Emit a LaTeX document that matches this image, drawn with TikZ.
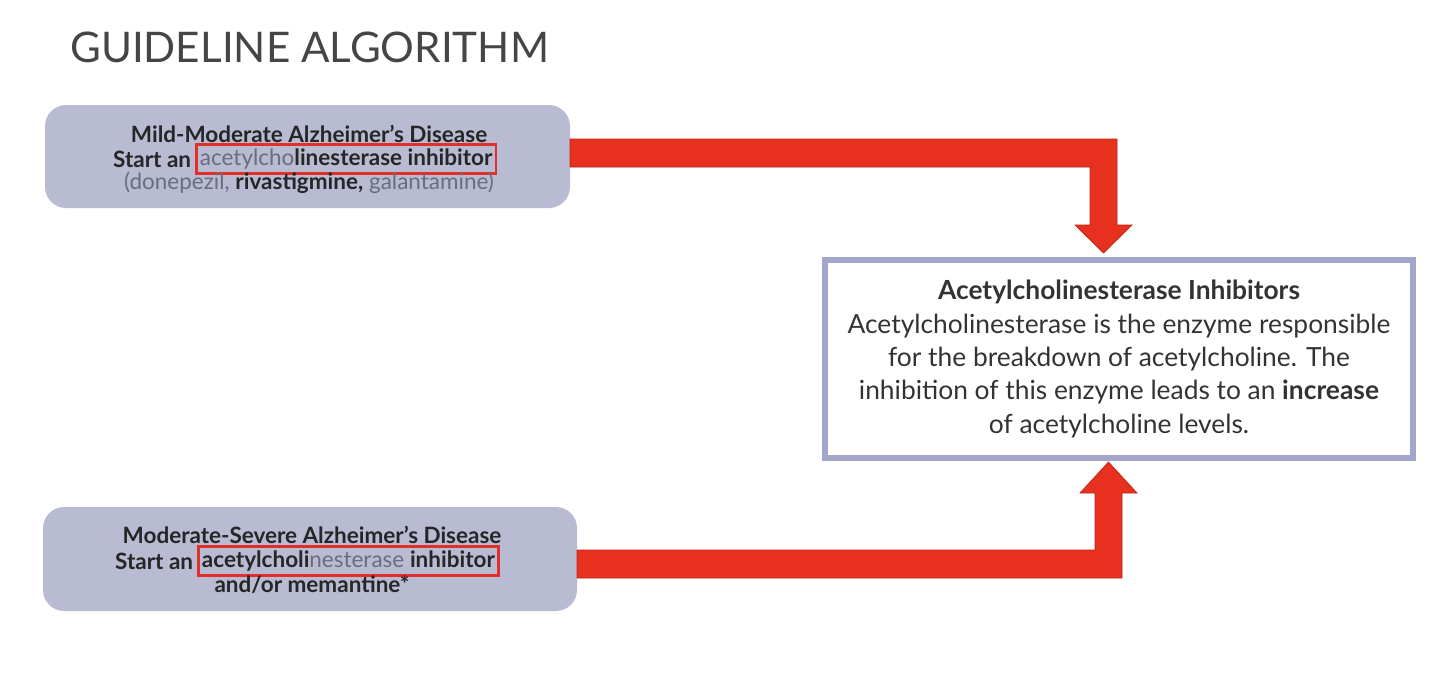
\documentclass[tikz,border=0pt]{standalone}
\usepackage{fontspec}
\setmainfont{Lato}
\begin{document}
\begin{tikzpicture}[x=0.02cm,y=-0.02cm,
  leftbox/.style={draw=none,fill=boxgray,rounded corners=12pt},
  hl/.style={draw=hlred,line width=1.6pt,inner xsep=2pt,inner ysep=2.5pt},
  fatarrow/.style={fill=arrred,draw=arrred!80!black,line width=0.4pt},
  lf/.style={font=\fontsize{12.8}{15}\selectfont,text=black!85,inner sep=0pt}]
\definecolor{boxgray}{HTML}{B9BBD3}
\definecolor{hlred}{HTML}{E0302A}
\definecolor{arrred}{HTML}{E8301E}
\definecolor{frame}{HTML}{A3A6CA}
\definecolor{titlec}{HTML}{454545}
\definecolor{lightt}{HTML}{6A6C80}
\useasboundingbox (0,0) rectangle (1440,676);
\node[anchor=west,text=titlec,font=\fontsize{24}{28}\selectfont] (title) at (64,47) {GUIDELINE ALGORITHM};
% top box
\path[leftbox] (45,105) rectangle (570,208);
\node[lf] (t1) at (309,134) {\textbf{Mild-Moderate Alzheimer's Disease}};
\node[lf,hl,anchor=west] (t2h) at (195,159) {{\color{lightt}acetylcho}\textbf{linesterase inhibitor}};
\node[lf,anchor=east] (t2a) at ([xshift=-2pt]t2h.west) {\textbf{Start an}};
\node[lf] (t3) at (309,183) {{\color{lightt}(donepezil,} \textbf{rivastigmine,} {\color{lightt}galantamine)}};
% bottom box
\path[leftbox] (43,507) rectangle (577,611);
\node[lf] (u1) at (312,535) {\textbf{Moderate-Severe Alzheimer's Disease}};
\node[lf,hl,anchor=west] (u2h) at (197,561) {\textbf{acetylcholi}{\color{lightt}nesterase} \textbf{inhibitor}};
\node[lf,anchor=east] (u2a) at ([xshift=-2pt]u2h.west) {\textbf{Start an}};
\node[lf] (u3) at (312,585) {\textbf{and/or memantine*}};
% right box
\draw[frame,line width=3pt,fill=white] (825,260) rectangle (1413,458);
\node[font=\fontsize{15}{19}\selectfont,align=center,text=black!80] (rt) at (1119,359)
 {\textbf{Acetylcholinesterase Inhibitors}\\
  Acetylcholinesterase is the enzyme responsible\\
  for the breakdown of acetylcholine. The\\
  inhibition of this enzyme leads to an \textbf{increase}\\
  of acetylcholine levels.};
% arrows
\draw[fatarrow] (570,139) -- (1117,139) -- (1117,225) -- (1132,225) -- (1103.5,253)
  -- (1075,225) -- (1090,225) -- (1090,167) -- (570,167) -- cycle;
\draw[fatarrow] (577,578) -- (1122,578) -- (1122,493) -- (1137,493) -- (1108.5,462)
  -- (1080,493) -- (1095,493) -- (1095,550) -- (577,550) -- cycle;
\end{tikzpicture}
\end{document}
